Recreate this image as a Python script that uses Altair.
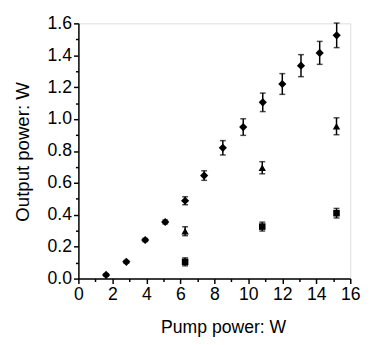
import altair as alt
import pandas as pd

# Series 1: diamonds
x1 = [1.63, 2.82, 3.93, 5.11, 6.28, 7.4, 8.5, 9.7, 10.85, 12.0, 13.1, 14.2, 15.2]
y1 = [0.023, 0.105, 0.242, 0.355, 0.488, 0.646, 0.82, 0.95, 1.105, 1.22, 1.335, 1.415, 1.525]
e1 = [0.008, 0.008, 0.01, 0.012, 0.025, 0.03, 0.045, 0.052, 0.058, 0.065, 0.069, 0.072, 0.077]
# Series 2: triangles
x2 = [6.28, 10.82, 15.19]
y2 = [0.297, 0.695, 0.955]
e2 = [0.028, 0.038, 0.053]
# Series 3: squares
x3 = [6.28, 10.82, 15.19]
y3 = [0.105, 0.326, 0.41]
e3 = [0.025, 0.028, 0.03]

x_ticks = list(range(0, 17))
y_ticks = [round(i * 0.1, 1) for i in range(0, 17)]

rows = []
for s, xs, ys, es in [("d", x1, y1, e1), ("t", x2, y2, e2), ("s", x3, y3, e3)]:
    for x, y, e in zip(xs, ys, es):
        rows.append({"series": s, "x": x, "y": y, "lo": y - e, "hi": y + e})
df = pd.DataFrame(rows)

FONT = "Liberation Sans"
xs = alt.Scale(domain=[0, 16], nice=False, zero=False)
ys = alt.Scale(domain=[0, 1.6], nice=False, zero=False)

x_axis = alt.Axis(values=x_ticks, title="Pump power: W", grid=False,
                  labelExpr="datum.value % 2 === 0 ? format(datum.value, 'd') : ''",
                  labelOverlap=False,
                  labelFontSize=18, titleFontSize=18, titleFontWeight="normal",
                  labelFont=FONT, titleFont=FONT, labelColor="black", titleColor="black",
                  domainColor="black", domainWidth=1.5, tickColor="black", tickWidth=1.5,
                  tickSize={"condition": {"test": "datum.value % 2 === 0", "value": 5}, "value": 3},
                  labelPadding=2, labelFlush=False,
                  titleX=148, titleY=41, titleBaseline="top", titleAlign="center")
y_axis = alt.Axis(values=y_ticks, title="Output power: W", grid=False,
                  labelExpr="round(datum.value * 10) % 2 === 0 ? format(datum.value, '.1f') : ''",
                  labelOverlap=False,
                  labelFontSize=18, titleFontSize=19, titleFontWeight="normal",
                  labelFont=FONT, titleFont=FONT, labelColor="black", titleColor="black",
                  domainColor="black", domainWidth=1.5, tickColor="black", tickWidth=1.5,
                  tickSize={"condition": {"test": "round(datum.value * 10) % 2 === 0", "value": 5}, "value": 3},
                  labelPadding=2, labelFlush=False,
                  titleX=-57, titleY=131, titleBaseline="middle", titleAlign="center", titleAngle=270)

X = alt.X("x:Q", scale=xs, axis=x_axis)
base = alt.Chart(df)

rules = base.mark_rule(color="black", strokeWidth=1.5).encode(
    x=X,
    y=alt.Y("lo:Q", scale=ys, axis=y_axis),
    y2="hi:Q",
)
cap_lo = base.mark_tick(color="black", orient="horizontal", size=6, thickness=1.5).encode(
    x=X, y=alt.Y("lo:Q", scale=ys, axis=y_axis))
cap_hi = base.mark_tick(color="black", orient="horizontal", size=6, thickness=1.5).encode(
    x=X, y=alt.Y("hi:Q", scale=ys, axis=y_axis))

pts = base.mark_point(filled=True, color="black", opacity=1).encode(
    x=X,
    y=alt.Y("y:Q", scale=ys, axis=y_axis),
    shape=alt.Shape("series:N", scale=alt.Scale(domain=["d", "t", "s"],
                                               range=["diamond", "triangle-up", "square"]),
                    legend=None),
    size=alt.Size("series:N", scale=alt.Scale(domain=["d", "t", "s"], range=[70, 45, 30]),
                  legend=None),
)

chart = alt.layer(rules, cap_lo, cap_hi, pts).properties(
    width=278, height=261,
    autosize=alt.AutoSizeParams(type="none"),
    padding={"left": 72, "top": 12, "right": 12, "bottom": 56},
).configure_view(strokeWidth=0).configure(background="white")

chart.save("out.html", embed_options={"renderer": "svg", "actions": False})
